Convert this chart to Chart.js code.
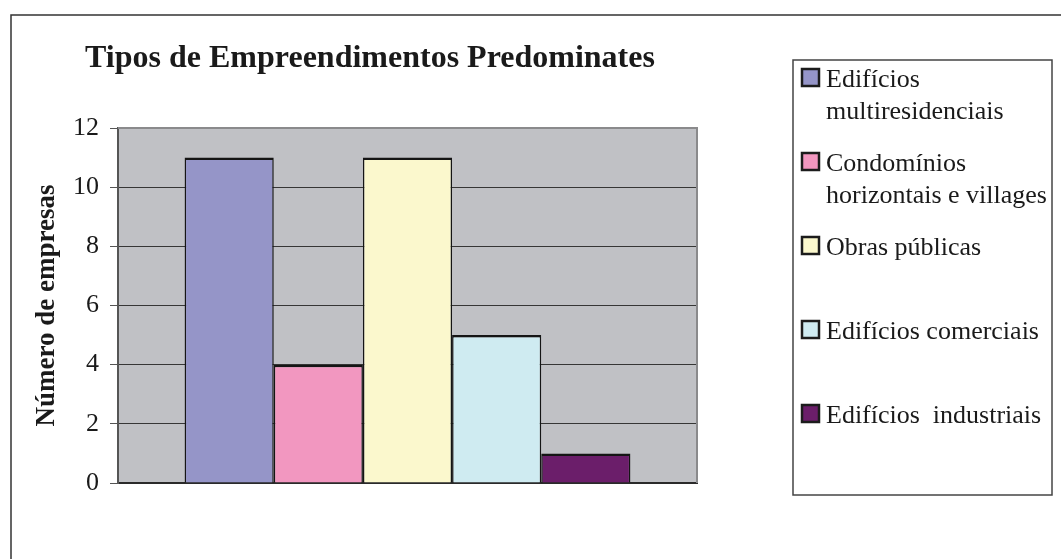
<!DOCTYPE html>
<html>
<head>
<meta charset="utf-8">
<script src="https://cdn.jsdelivr.net/npm/chart.js@4.4.1/dist/chart.umd.min.js"></script>
<style>
  html, body { margin: 0; padding: 0; background: #fff; }
  #caja { width: 1061px; height: 559px; }
</style>
</head>
<body>
<div id="caja"><canvas id="grafica_empreendimentos" width="1061" height="559"></canvas></div>
<script>
// datos
const tituloGrafica = "Tipos de Empreendimentos Predominates";
const tituloEjeY = "Número de empresas";
const categorias = [""];
const nombresSeries = ["Edifícios multiresidenciais", "Condomínios horizontais e villages", "Obras públicas", "Edifícios comerciais", "Edifícios  industriais"];
const lineasLeyenda = [["Edifícios", "multiresidenciais"], ["Condomínios", "horizontais e villages"], ["Obras públicas"], ["Edifícios comerciais"], ["Edifícios  industriais"]];
const valoresSeries = [11, 4, 11, 5, 1];
const ticksY = [0, 2, 4, 6, 8, 10, 12];
const coloresSeries = ["#9595c8", "#f297c0", "#fbf8cd", "#cfebf1", "#6b1e6a"];

const fuente = "'Liberation Serif', 'Times New Roman', serif";

const fondoPlot = {
  id: 'fondoPlot',
  beforeDraw(chart) {
    const ctx = chart.ctx;
    const a = chart.chartArea;
    ctx.save();
    ctx.fillStyle = '#ffffff';
    ctx.fillRect(0, 0, chart.width, chart.height);
    // marco exterior (solo arriba e izquierda)
    ctx.strokeStyle = '#333';
    ctx.lineWidth = 1.5;
    ctx.beginPath();
    ctx.moveTo(11, chart.height);
    ctx.lineTo(11, 15);
    ctx.lineTo(chart.width, 15);
    ctx.stroke();
    ctx.fillStyle = '#c0c1c5';
    ctx.fillRect(a.left, a.top, a.right - a.left, a.bottom - a.top);
    ctx.restore();
  },
  beforeDatasetsDraw(chart) {
    const ctx = chart.ctx;
    const a = chart.chartArea;
    ctx.save();
    ctx.strokeStyle = '#8a8a8c';
    ctx.lineWidth = 2;
    ctx.beginPath();
    ctx.moveTo(a.left, a.top);
    ctx.lineTo(a.right, a.top);
    ctx.lineTo(a.right, a.bottom);
    ctx.stroke();
    ctx.restore();
  },
  afterDraw(chart) {
    const ctx = chart.ctx;
    ctx.save();
    // titulo
    ctx.fillStyle = '#1a1a1a';
    ctx.font = 'bold 32px ' + fuente;
    ctx.textAlign = 'center';
    ctx.textBaseline = 'alphabetic';
    ctx.fillText(tituloGrafica, 370, 67);

    // leyenda
    ctx.strokeStyle = '#444';
    ctx.lineWidth = 1.5;
    ctx.strokeRect(793, 60, 259, 435);
    ctx.font = '26px ' + fuente;
    ctx.textAlign = 'left';
    chart.data.datasets.forEach(function (ds, i) {
      const base = 87 + i * 84;
      ctx.fillStyle = ds.backgroundColor;
      ctx.fillRect(801, base - 19, 19, 19);
      ctx.strokeStyle = '#1c1c1c';
      ctx.lineWidth = 2.5;
      ctx.strokeRect(802, base - 18, 17, 17);
      ctx.fillStyle = '#1a1a1a';
      lineasLeyenda[i].forEach(function (txt, j) {
        ctx.fillText(txt, 826, base + j * 32);
      });
    });
    ctx.restore();
  }
};

const ctx = document.getElementById("grafica_empreendimentos").getContext("2d");

const chartEmpreendimentos = new Chart(ctx, {
  type: 'bar',
  data: {
    labels: categorias,
    datasets: nombresSeries.map(function (nombre, i) {
      return {
        label: nombre,
        data: [valoresSeries[i]],
        backgroundColor: coloresSeries[i],
        borderColor: '#151515',
        borderWidth: { top: 2.5, left: 1.5, right: 1.5, bottom: 0 },
        borderSkipped: false,
        categoryPercentage: 0.77,
        barPercentage: 1
      };
    })
  },
  options: {
    responsive: false,
    animation: false,
    layout: { padding: { left: 31, top: 128, right: 364, bottom: 76 } },
    plugins: {
      legend: { display: false },
      title: { display: false },
      tooltip: { enabled: false }
    },
    scales: {
      x: {
        grid: { display: false },
        ticks: { display: false },
        border: { color: '#2a2a2a', width: 2 },
        afterFit: function (scale) { scale.height = 0; }
      },
      y: {
        min: 0,
        max: 12,
        afterBuildTicks: function (scale) {
          scale.ticks = ticksY.map(function (v) { return { value: v }; });
        },
        afterFit: function (scale) { scale.width = 87; },
        ticks: {
          color: '#1a1a1a',
          font: { family: fuente, size: 26 },
          padding: 11
        },
        grid: {
          color: '#363636',
          lineWidth: 1,
          tickLength: 8,
          tickColor: '#555'
        },
        border: { color: '#555', width: 2 },
        title: {
          display: true,
          text: tituloEjeY,
          color: '#1a1a1a',
          font: { family: fuente, size: 27, weight: 'bold' },
          padding: 0
        }
      }
    }
  },
  plugins: [fondoPlot]
});
</script>
</body>
</html>
